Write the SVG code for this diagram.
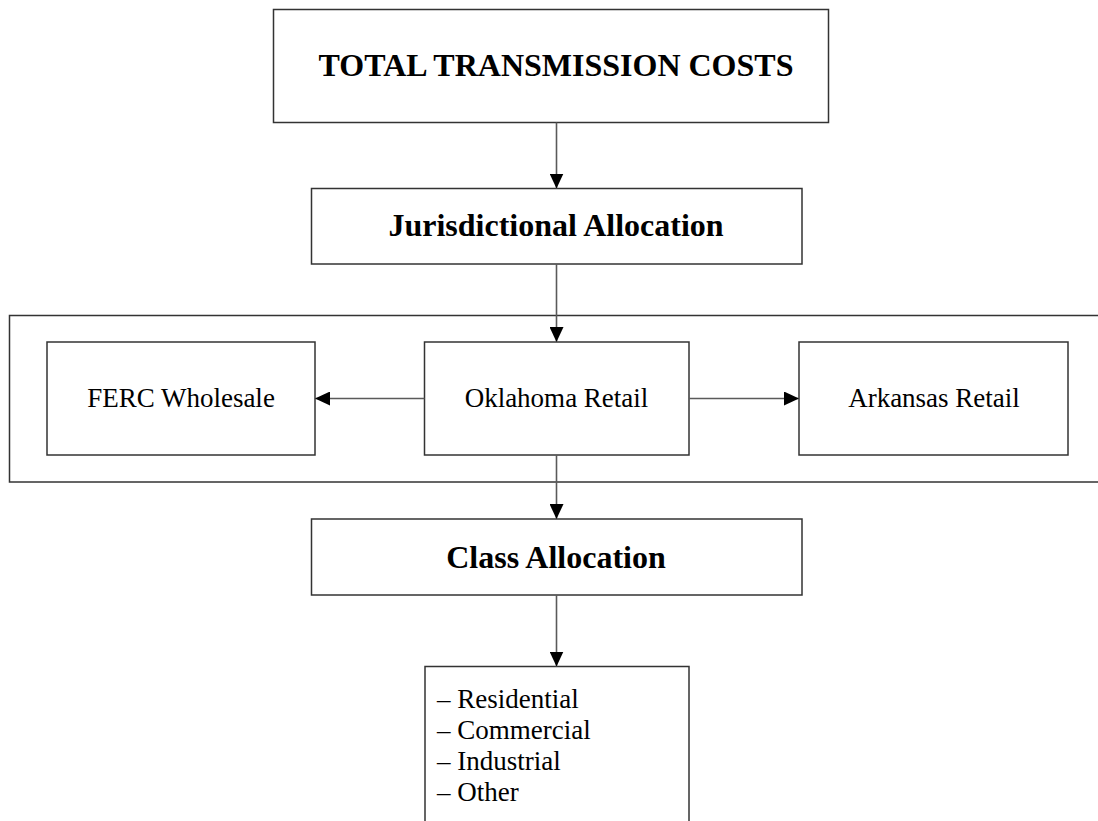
<svg xmlns="http://www.w3.org/2000/svg" width="1098" height="821" viewBox="0 0 1098 821">
<style>
.box{fill:#fff;stroke:#333;stroke-width:1.5}
.band{fill:none;stroke:#333;stroke-width:1.5}
.conn{fill:none;stroke:#5a5a5a;stroke-width:1.6}
.b{font-family:"Liberation Serif","Times New Roman",serif;font-weight:bold;font-size:32px;fill:#000;text-anchor:middle}
.r{font-family:"Liberation Serif","Times New Roman",serif;font-size:27px;fill:#000;text-anchor:middle}
.l{font-family:"Liberation Serif","Times New Roman",serif;font-size:27px;fill:#000}
</style>
<defs>
<marker id="arr" markerUnits="userSpaceOnUse" markerWidth="15" markerHeight="14" refX="15" refY="7" orient="auto">
<path d="M0,0 L15,7 L0,14 z" fill="#000"/>
</marker>
</defs>
<rect width="1098" height="821" fill="#fff"/>
<g id="band"><rect class="band" x="9.5" y="315.5" width="1100" height="166.5"/></g>
<g id="total"><rect class="box" x="273.5" y="9.5" width="555" height="113"/><text class="b" x="556" y="76">TOTAL TRANSMISSION COSTS</text></g>
<g id="jurisdictional"><rect class="box" x="311.5" y="188.5" width="490.5" height="75.5"/><text class="b" x="556" y="236">Jurisdictional Allocation</text></g>
<g id="ferc"><rect class="box" x="47" y="342" width="268" height="113"/><text class="r" x="181" y="407">FERC Wholesale</text></g>
<g id="oklahoma"><rect class="box" x="424.5" y="342" width="264.5" height="113"/><text class="r" x="556.5" y="407">Oklahoma Retail</text></g>
<g id="arkansas"><rect class="box" x="799" y="342" width="269" height="113"/><text class="r" x="934" y="407">Arkansas Retail</text></g>
<g id="class"><rect class="box" x="311.5" y="519" width="490.5" height="76"/><text class="b" x="556" y="568">Class Allocation</text></g>
<g id="classes"><rect class="box" x="425" y="666.5" width="264" height="170"/>
<text class="l" x="437" y="708">– Residential</text>
<text class="l" x="437" y="739">– Commercial</text>
<text class="l" x="437" y="770">– Industrial</text>
<text class="l" x="437" y="801">– Other</text>
</g>
<g id="connectors">
<line class="conn" x1="556.5" y1="122.5" x2="556.5" y2="188.5" marker-end="url(#arr)"/>
<line class="conn" x1="556.5" y1="264" x2="556.5" y2="342" marker-end="url(#arr)"/>
<line class="conn" x1="424.5" y1="398.5" x2="315" y2="398.5" marker-end="url(#arr)"/>
<line class="conn" x1="689" y1="398.5" x2="799" y2="398.5" marker-end="url(#arr)"/>
<line class="conn" x1="556.5" y1="455" x2="556.5" y2="519" marker-end="url(#arr)"/>
<line class="conn" x1="556.5" y1="595" x2="556.5" y2="666.5" marker-end="url(#arr)"/>
</g>
</svg>
